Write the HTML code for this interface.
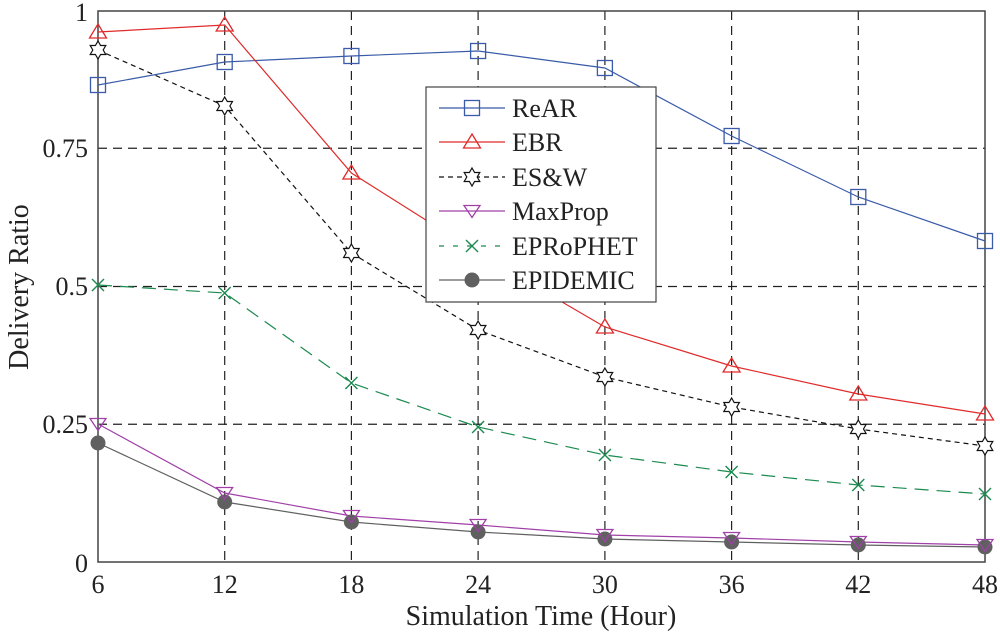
<!DOCTYPE html>
<html><head><meta charset="utf-8"><style>
html,body{margin:0;padding:0;background:#fff}
svg{display:block}
text{font-family:"Liberation Serif","Times New Roman",serif}
</style></head><body>
<svg width="1000" height="636" viewBox="0 0 1000 636" xmlns="http://www.w3.org/2000/svg" font-family="'Liberation Serif', serif">
<defs>
<g id="sq"><rect x="-7.5" y="-7.5" width="15" height="15" fill="none" stroke="#3a5ba8" stroke-width="1.3"/></g>
<g id="tri"><polygon points="0,-8 8.5,6 -8.5,6" fill="none" stroke="#e02a2a" stroke-width="1.3"/></g>
<g id="star"><polygon points="0,-9 2.6,-4.5 7.79,-4.5 5.2,0 7.79,4.5 2.6,4.5 0,9 -2.6,4.5 -7.79,4.5 -5.2,0 -7.79,-4.5 -2.6,-4.5" fill="#fff" stroke="#111" stroke-width="1.2"/></g>
<g id="itri"><polygon points="0,6.5 8,-5.5 -8,-5.5" fill="none" stroke="#a040a8" stroke-width="1.3"/></g>
<g id="xx"><path d="M-6,-6L6,6M-6,6L6,-6" stroke="#1b8a4f" stroke-width="1.4"/></g>
<g id="dot"><circle r="7.5" fill="#606060"/></g>
</defs>
<g stroke="#222" stroke-width="1.2" stroke-dasharray="9,6">
<line x1="224.7" y1="11" x2="224.7" y2="562"/><line x1="351.4" y1="11" x2="351.4" y2="562"/>
<line x1="478.1" y1="11" x2="478.1" y2="562"/><line x1="604.9" y1="11" x2="604.9" y2="562"/>
<line x1="731.6" y1="11" x2="731.6" y2="562"/><line x1="858.3" y1="11" x2="858.3" y2="562"/>
<line x1="98" y1="148.25" x2="985" y2="148.25"/><line x1="98" y1="286.5" x2="985" y2="286.5"/>
<line x1="98" y1="424.25" x2="985" y2="424.25"/>
</g>
<rect x="98" y="11" width="887" height="551" fill="none" stroke="#444" stroke-width="1.5"/>
<polyline fill="none" stroke="#3a5ba8" stroke-width="1.2" points="98,85 224.7,62 351.4,56 478.1,51 604.9,68 731.6,136 858.3,197 985,241"/>
<polyline fill="none" stroke="#e02a2a" stroke-width="1.2" points="98,32 224.7,25 351.4,173 478.1,253 604.9,327 731.6,366 858.3,394 985,414"/>
<polyline fill="none" stroke="#111" stroke-width="1.2" stroke-dasharray="5,4" points="98,50 224.7,106 351.4,253 478.1,330 604.9,377 731.6,407 858.3,429 985,446"/>
<polyline fill="none" stroke="#1b8a4f" stroke-width="1.2" stroke-dasharray="14,8" points="98,285 224.7,293 351.4,383 478.1,427 604.9,455 731.6,472 858.3,485 985,494"/>
<polyline fill="none" stroke="#a040a8" stroke-width="1.2" points="98,424 224.7,493 351.4,516 478.1,525 604.9,535 731.6,538 858.3,542 985,545"/>
<polyline fill="none" stroke="#606060" stroke-width="1.2" points="98,443 224.7,502 351.4,522 478.1,532 604.9,539 731.6,542 858.3,545 985,547"/>
<g>
<use href="#sq" x="98" y="85"/><use href="#sq" x="224.7" y="62"/><use href="#sq" x="351.4" y="56"/><use href="#sq" x="478.1" y="51"/><use href="#sq" x="604.9" y="68"/><use href="#sq" x="731.6" y="136"/><use href="#sq" x="858.3" y="197"/><use href="#sq" x="985" y="241"/>
<use href="#tri" x="98" y="32"/><use href="#tri" x="224.7" y="25"/><use href="#tri" x="351.4" y="173"/><use href="#tri" x="478.1" y="253"/><use href="#tri" x="604.9" y="327"/><use href="#tri" x="731.6" y="366"/><use href="#tri" x="858.3" y="394"/><use href="#tri" x="985" y="414"/>
<use href="#star" x="98" y="50"/><use href="#star" x="224.7" y="106"/><use href="#star" x="351.4" y="253"/><use href="#star" x="478.1" y="330"/><use href="#star" x="604.9" y="377"/><use href="#star" x="731.6" y="407"/><use href="#star" x="858.3" y="429"/><use href="#star" x="985" y="446"/>
<use href="#xx" x="98" y="285"/><use href="#xx" x="224.7" y="293"/><use href="#xx" x="351.4" y="383"/><use href="#xx" x="478.1" y="427"/><use href="#xx" x="604.9" y="455"/><use href="#xx" x="731.6" y="472"/><use href="#xx" x="858.3" y="485"/><use href="#xx" x="985" y="494"/>
<use href="#dot" x="98" y="443"/><use href="#dot" x="224.7" y="502"/><use href="#dot" x="351.4" y="522"/><use href="#dot" x="478.1" y="532"/><use href="#dot" x="604.9" y="539"/><use href="#dot" x="731.6" y="542"/><use href="#dot" x="858.3" y="545"/><use href="#dot" x="985" y="547"/>
<use href="#itri" x="98" y="424"/><use href="#itri" x="224.7" y="493"/><use href="#itri" x="351.4" y="516"/><use href="#itri" x="478.1" y="525"/><use href="#itri" x="604.9" y="535"/><use href="#itri" x="731.6" y="538"/><use href="#itri" x="858.3" y="542"/><use href="#itri" x="985" y="545"/>
</g>
<rect x="426" y="87" width="230" height="215" fill="#fff" stroke="#444" stroke-width="1.2"/>
<line x1="439" y1="108" x2="505" y2="108" stroke="#3a5ba8" stroke-width="1.2"/><use href="#sq" x="472" y="108"/>
<line x1="439" y1="142" x2="505" y2="142" stroke="#e02a2a" stroke-width="1.2"/><use href="#tri" x="472" y="142"/>
<line x1="439" y1="177" x2="505" y2="177" stroke="#111" stroke-width="1.2" stroke-dasharray="5,4"/><use href="#star" x="472" y="177"/>
<line x1="439" y1="211" x2="505" y2="211" stroke="#a040a8" stroke-width="1.2"/><use href="#itri" x="472" y="211"/>
<line x1="439" y1="246" x2="505" y2="246" stroke="#1b8a4f" stroke-width="1.2" stroke-dasharray="5,9"/><use href="#xx" x="472" y="246"/>
<line x1="439" y1="280" x2="505" y2="280" stroke="#606060" stroke-width="1.2"/><use href="#dot" x="472" y="280"/>
<g font-size="26" fill="#222" font-family="'Liberation Serif', serif">
<text x="512" y="117">ReAR</text><text x="512" y="151">EBR</text><text x="512" y="186">ES&amp;W</text>
<text x="512" y="220">MaxProp</text><text x="512" y="255">EPRoPHET</text><text x="512" y="289">EPIDEMIC</text>
</g>
<g font-size="26" fill="#222" text-anchor="end" font-family="'Liberation Serif', serif">
<text x="88" y="21">1</text><text x="88" y="157">0.75</text><text x="88" y="295">0.5</text><text x="88" y="433">0.25</text><text x="88" y="572">0</text>
</g>
<g font-size="26" fill="#222" text-anchor="middle" font-family="'Liberation Serif', serif">
<text x="98" y="593">6</text><text x="224.7" y="593">12</text><text x="351.4" y="593">18</text><text x="478.1" y="593">24</text>
<text x="604.9" y="593">30</text><text x="731.6" y="593">36</text><text x="858.3" y="593">42</text><text x="985" y="593">48</text>
<text x="541" y="625" font-size="28">Simulation Time (Hour)</text>
<text transform="translate(28,287) rotate(-90)" font-size="28">Delivery Ratio</text>
</g>
</svg>
</body></html>
